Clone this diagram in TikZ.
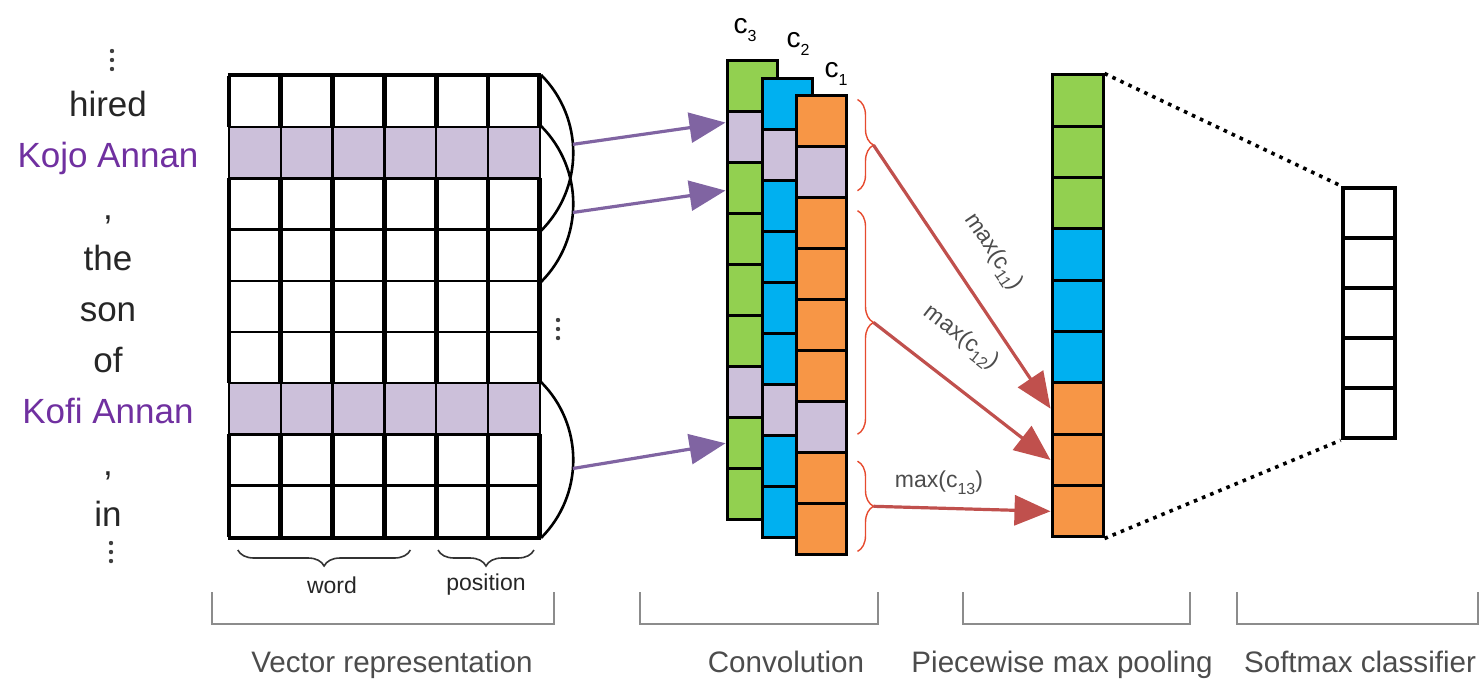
\documentclass[tikz,border=0pt]{standalone}
\usepackage{fontspec}
\setmainfont{Liberation Sans}
\usetikzlibrary{arrows.meta,positioning,decorations.pathreplacing}
\definecolor{cgreen}{HTML}{92D050}
\definecolor{cblue}{HTML}{00B0F0}
\definecolor{corange}{HTML}{F79646}
\definecolor{clav}{HTML}{CCC0DA}
\definecolor{wpurple}{HTML}{7030A0}
\definecolor{apurple}{HTML}{8064A2}
\definecolor{ared}{HTML}{C0504D}
\definecolor{bred}{HTML}{E64A2E}
\newcommand{\lowidx}[1]{\raisebox{-0.55ex}{\footnotesize #1}}

\begin{document}
\begin{tikzpicture}[x=0.5pt,y=-0.5pt]
        \tikzstyle{cell}=[rectangle, draw=black, line width=1.2pt, inner sep=0pt, minimum width=25.9pt, minimum height=25.6pt]
        \tikzstyle{conv}=[rectangle, draw=black, line width=1.5pt, inner sep=0pt, minimum width=25pt, minimum height=25.55pt]
        \tikzstyle{pool}=[rectangle, draw=black, line width=1.5pt, inner sep=0pt, minimum width=25.5pt, minimum height=25.67pt]
        \tikzstyle{soft}=[rectangle, draw=black, line width=2.3pt, inner sep=0pt, minimum width=26pt, minimum height=25pt]
        \tikzstyle{word}=[font=\fontsize{17.5}{20}\selectfont, text=black!85, inner sep=0pt]
        \tikzstyle{entity}=[word, text=wpurple]
        \tikzstyle{winarc}=[line width=1.3pt]
        \tikzstyle{feed}=[apurple, line width=1.6pt, -{Triangle[length=18pt,width=15pt]}]
        \tikzstyle{pick}=[ared, line width=1.6pt, -{Triangle[length=18pt,width=15pt]}]
        \tikzstyle{seg}=[bred, line width=0.7pt, decorate, decoration={brace, amplitude=8pt}]
        \tikzstyle{dimbrace}=[black!80, line width=0.8pt, decorate, decoration={brace, mirror, amplitude=8pt}]
        \tikzstyle{dimlabel}=[font=\fontsize{11.5}{13}\selectfont, text=black!85]
        \tikzstyle{maxlabel}=[font=\fontsize{11.5}{13}\selectfont, text=black!70, inner sep=1pt]
        \tikzstyle{clabel}=[font=\fontsize{14}{16}\selectfont, text=black, inner sep=0pt]
        \tikzstyle{stage}=[font=\fontsize{14.8}{17}\selectfont, text=black!70, anchor=base]
        \tikzstyle{bracket}=[black!45, line width=0.9pt]
        \tikzstyle{dotline}=[line width=1.8pt, dash pattern=on 1.8pt off 2.6pt]

        \useasboundingbox (0,0) rectangle (1482,680);

        \foreach \w/\s [count=\r] in {hired/word, Kojo Annan/entity, {,}/word, the/word, son/word, of/word, Kofi Annan/entity, {,}/word, in/word}
          \node[\s, anchor=base] (w\r) at (108,{65.4+51.2*\r}) {\w};
        \foreach \gx/\gy in {112/60, 558/329, 111/552}
          \foreach \d in {-9,0,9}
            \fill[black!75] (\gx,{\gy+\d}) circle (1.1pt);

        \foreach \r in {1,...,9}
          \foreach \c in {1,...,6}
          {
            \pgfmathsetmacro{\xc}{229+51.8*(\c-0.5)}
            \pgfmathsetmacro{\yc}{76+51.2*(\r-0.5)}
            \def\fc{white}
            \ifnum\r=2 \def\fc{clav}\fi
            \ifnum\r=7 \def\fc{clav}\fi
            \node[cell, fill=\fc] (v\r\c) at (\xc,\yc) {};
          }
        \foreach \c in {0,...,6}
          \foreach \a/\b in {76/127.2, 178.4/383.2, 434.4/537}
            \draw[line width=2.4pt] ({229+51.8*\c},\a) -- ({229+51.8*\c},\b);
        \draw[line width=2.2pt] (v11.north west) -- (v16.north east);
        \draw[line width=2.2pt] (v91.south west) -- (v96.south east);

        \draw[winarc] (v16.north east) to[bend left=45] coordinate[pos=0.45] (aA) (v36.south east);
        \draw[winarc] (v26.north east) to[bend left=45] coordinate[pos=0.55] (aB) (v46.south east);
        \draw[winarc] (v76.north east) to[bend left=45] coordinate[pos=0.55] (aC) (v96.south east);

        \draw[dimbrace] ([xshift=5pt,yshift=-6pt]v91.south west) -- ([xshift=-13.5pt,yshift=-6pt]v94.south east) coordinate[midway,yshift=-8pt] (bw);
        \draw[dimbrace] ([xshift=1.5pt,yshift=-6pt]v95.south west) -- ([xshift=-3.5pt,yshift=-6pt]v96.south east) coordinate[midway,yshift=-8pt] (bp);
        \node[dimlabel] (lw) at (332,585) {word};
        \node[dimlabel] (lp) at (486,585) {position};

        \foreach \k/\xl/\yt/\col in {3/727/60/cgreen, 2/762/78/cblue, 1/796/95/corange}
          \foreach \r in {1,...,9}
          {
            \def\fc{\col}
            \ifnum\r=2 \def\fc{clav}\fi
            \ifnum\r=7 \def\fc{clav}\fi
            \node[conv, fill=\fc] (c\k-\r) at ({\xl+25},{\yt+51.1*(\r-0.5)}) {};
          }
        \node[clabel] (n3) at (745,30) {c\lowidx{3}};
        \node[clabel] (n2) at (798,44) {c\lowidx{2}};
        \node[clabel] (n1) at (836,74) {c\lowidx{1}};

        \foreach \r/\col in {1/cgreen, 2/cgreen, 3/cgreen, 4/cblue, 5/cblue, 6/cblue, 7/corange, 8/corange, 9/corange}
          \node[pool, fill=\col] (p\r) at (1077.5,{75+51.33*(\r-0.5)}) {};
        \foreach \r in {1,...,5}
          \node[soft, fill=white] (s\r) at (1369,{188+50*(\r-0.5)}) {};
        \draw[dotline] (p1.north east) -- (s1.north west);
        \draw[dotline] (p9.south east) -- (s5.south west);

        \draw[feed] (aA) -- (c3-2.152);
        \draw[feed] (aB) -- (c3-3.186);
        \draw[feed] (aC) -- (c3-8.west);

        \draw[seg] ([xshift=5pt,yshift=-3pt]c1-1.north east) -- ([xshift=5pt,yshift=4pt]c1-2.south east) coordinate[midway,xshift=8pt] (b1);
        \draw[seg] ([xshift=5pt,yshift=-7.5pt]c1-3.north east) -- ([xshift=5pt,yshift=10pt]c1-7.south east) coordinate[midway,xshift=8pt] (b2);
        \draw[seg] ([xshift=5pt,yshift=-5pt]c1-8.north east) -- ([xshift=5pt,yshift=2.5pt]c1-9.south east) coordinate[midway,xshift=8pt] (b3);

        \draw[pick] (b1) -- (p7.west) node[maxlabel, sloped, above=12pt, pos=0.49] (m11) {max(c\lowidx{11})};
        \draw[pick] (b2) -- (p8.west) node[maxlabel, sloped, above=13pt, pos=0.35] (m12) {max(c\lowidx{12})};
        \draw[pick] (b3) -- (p9.west) node[maxlabel, above=5pt, pos=0.37] (m13) {max(c\lowidx{13})};

        \foreach \a/\b/\tx/\t/\n in {212/554/392/Vector representation/vec, 640/878/786/Convolution/conv, 963/1190/1062/Piecewise max pooling/pool, 1237/1478/1360/Softmax classifier/soft}
        {
          \draw[bracket] (\a,592) -- (\a,624) -- (\b,624) -- (\b,592);
          \node[stage] (st\n) at (\tx,672) {\t};
        }
      \end{tikzpicture}
\end{document}
